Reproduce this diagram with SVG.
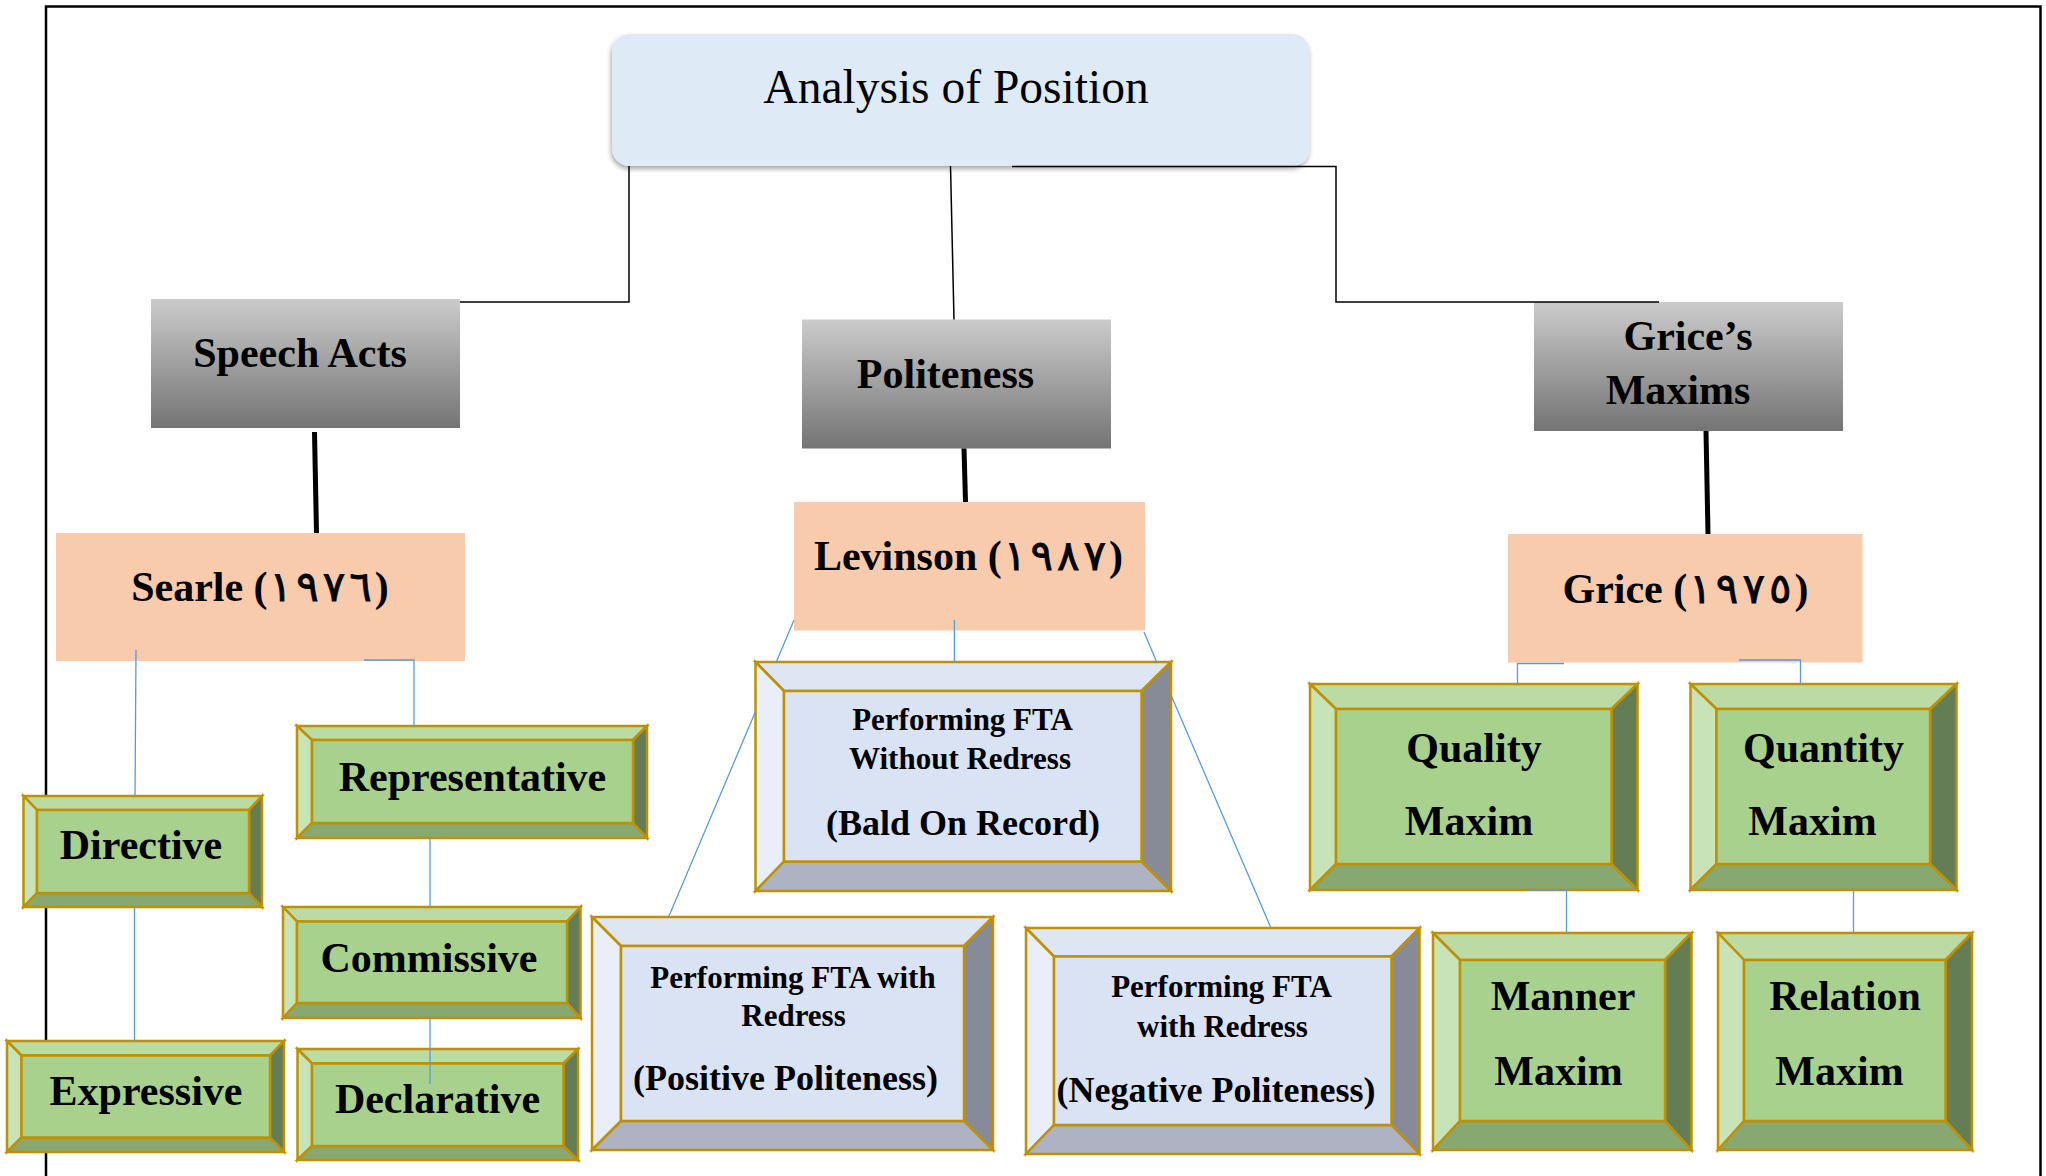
<svg xmlns="http://www.w3.org/2000/svg" width="2046" height="1176" viewBox="0 0 2046 1176">
<defs>
<linearGradient id="gray" x1="0" y1="0" x2="0" y2="1">
<stop offset="0" stop-color="#CBCBCB"/>
<stop offset="1" stop-color="#747474"/>
</linearGradient>
<filter id="shadow" x="-5%" y="-10%" width="110%" height="130%">
<feDropShadow dx="-1" dy="3" stdDeviation="2.5" flood-color="#000" flood-opacity="0.35"/>
</filter>
</defs>
<style>
.frame{fill:none;stroke:#000;stroke-width:2.5}
.root{fill:#DEEAF6}
.rootT{font-family:"Liberation Serif","Times New Roman",serif;font-size:47.5px;fill:#000;text-anchor:middle}
.grayBox{fill:url(#gray)}
.peach{fill:#F8CBAD}
.lbl{font-family:"Liberation Serif","Times New Roman","DejaVu Serif",serif;font-weight:bold;font-size:42px;fill:#000;text-anchor:middle}
.dg{font-family:"DejaVu Sans",sans-serif;font-weight:normal;font-size:42px;stroke:#000;stroke-width:0.8px}
.sm{font-size:31px}
.md{font-size:36px}
.g polygon,.g rect,.b polygon,.b rect{stroke:#BF9000;stroke-width:2.5;stroke-linejoin:miter}
.g .t{fill:#BBDAA4}.g .l{fill:#C9E3B9}.g .r{fill:#647D55}.g .bt{fill:#87A870}.g .f{fill:#A9D18E}
.b .t{fill:#DFE6F3}.b .l{fill:#E9EEF8}.b .r{fill:#868B97}.b .bt{fill:#ADB3C2}.b .f{fill:#DAE3F3}
.k{fill:none;stroke:#000;stroke-width:1.5}
.kk{fill:none;stroke:#000;stroke-width:5}
.bl{fill:none;stroke:#5B9BD5;stroke-width:1.3}
</style>
<path class="frame" d="M46,1178 V6.5 H2040.5 V1178"/>

<g id="root">
<rect class="root" x="612" y="34" width="698" height="132" rx="18" filter="url(#shadow)"/>
<text class="rootT" x="956" y="103">Analysis of Position</text>
</g>

<g id="speech-acts">
<rect class="grayBox" x="151" y="299" width="309" height="129"/>
<text class="lbl" x="300" y="367">Speech Acts</text>
</g>
<g id="politeness">
<rect class="grayBox" x="802" y="319.5" width="309" height="129"/>
<text class="lbl" x="945.5" y="388">Politeness</text>
</g>
<g id="grices-maxims">
<rect class="grayBox" x="1534" y="302" width="309" height="129"/>
<text class="lbl" x="1688" y="350">Grice’s</text>
<text class="lbl" x="1678" y="404">Maxims</text>
</g>

<g id="searle">
<rect class="peach" x="56" y="533" width="409" height="128"/>
<text class="lbl" x="260" y="601">Searle (<tspan class="dg" dx="2 4 4 4">١٩٧٦</tspan><tspan dx="3">)</tspan></text>
</g>
<g id="levinson">
<rect class="peach" x="794" y="502" width="351" height="128.5"/>
<text class="lbl" x="968.5" y="570">Levinson (<tspan class="dg" dx="2 4 4 4">١٩٨٧</tspan><tspan dx="3">)</tspan></text>
</g>
<g id="grice">
<rect class="peach" x="1508" y="534" width="354.5" height="128.5"/>
<text class="lbl" x="1685.5" y="603">Grice (<tspan class="dg" dx="2 4 4 4">١٩٧٥</tspan><tspan dx="3">)</tspan></text>
</g>

<g id="directive" class="g">
<polygon class="t" points="23.5,796 262,796 249,810 37,810"/>
<polygon class="l" points="23.5,796 37,810 37,893 23.5,907"/>
<polygon class="r" points="262,796 262,907 249,893 249,810"/>
<polygon class="bt" points="23.5,907 37,893 249,893 262,907"/>
<rect class="f" x="37" y="810" width="212" height="83"/>
<text class="lbl" x="141" y="859">Directive</text>
</g>
<g id="representative" class="g">
<polygon class="t" points="297,726 647,726 633,740 312,740"/>
<polygon class="l" points="297,726 312,740 312,823 297,838"/>
<polygon class="r" points="647,726 647,838 633,823 633,740"/>
<polygon class="bt" points="297,838 312,823 633,823 647,838"/>
<rect class="f" x="312" y="740" width="321" height="83"/>
<text class="lbl" x="472.5" y="791">Representative</text>
</g>
<g id="commissive" class="g">
<polygon class="t" points="283,907 580.5,907 567,921.5 297,921.5"/>
<polygon class="l" points="283,907 297,921.5 297,1003 283,1018"/>
<polygon class="r" points="580.5,907 580.5,1018 567,1003 567,921.5"/>
<polygon class="bt" points="283,1018 297,1003 567,1003 580.5,1018"/>
<rect class="f" x="297" y="921.5" width="270" height="81.5"/>
<text class="lbl" x="429" y="972">Commissive</text>
</g>
<g id="expressive" class="g">
<polygon class="t" points="7,1041 284,1041 270,1055.5 21.5,1055.5"/>
<polygon class="l" points="7,1041 21.5,1055.5 21.5,1137.5 7,1152"/>
<polygon class="r" points="284,1041 284,1152 270,1137.5 270,1055.5"/>
<polygon class="bt" points="7,1152 21.5,1137.5 270,1137.5 284,1152"/>
<rect class="f" x="21.5" y="1055.5" width="248.5" height="82"/>
<text class="lbl" x="146" y="1105">Expressive</text>
</g>
<g id="declarative" class="g">
<polygon class="t" points="297.5,1049 578,1049 563.5,1063.5 312,1063.5"/>
<polygon class="l" points="297.5,1049 312,1063.5 312,1146 297.5,1160"/>
<polygon class="r" points="578,1049 578,1160 563.5,1146 563.5,1063.5"/>
<polygon class="bt" points="297.5,1160 312,1146 563.5,1146 578,1160"/>
<rect class="f" x="312" y="1063.5" width="251.5" height="82.5"/>
<text class="lbl" x="437.5" y="1112.5">Declarative</text>
</g>

<g id="bald-on-record" class="b">
<polygon class="t" points="755.5,662 1171,662 1141.5,691 784,691"/>
<polygon class="l" points="755.5,662 784,691 784,861.5 755.5,891"/>
<polygon class="r" points="1171,662 1171,891 1141.5,861.5 1141.5,691"/>
<polygon class="bt" points="755.5,891 784,861.5 1141.5,861.5 1171,891"/>
<rect class="f" x="784" y="691" width="357.5" height="170.5"/>
<text class="lbl sm" x="962.5" y="730">Performing FTA</text>
<text class="lbl sm" x="960" y="769">Without Redress</text>
<text class="lbl md" x="963" y="835">(Bald On Record)</text>
</g>
<g id="positive-politeness" class="b">
<polygon class="t" points="592,917 993,917 964,946 621,946"/>
<polygon class="l" points="592,917 621,946 621,1121 592,1150"/>
<polygon class="r" points="993,917 993,1150 964,1121 964,946"/>
<polygon class="bt" points="592,1150 621,1121 964,1121 993,1150"/>
<rect class="f" x="621" y="946" width="343" height="175"/>
<text class="lbl sm" x="793" y="987.5">Performing FTA with</text>
<text class="lbl sm" x="793.5" y="1026">Redress</text>
<text class="lbl md" x="785.5" y="1090">(Positive Politeness)</text>
</g>
<g id="negative-politeness" class="b">
<polygon class="t" points="1026,928 1419.5,928 1391.5,956.5 1054,956.5"/>
<polygon class="l" points="1026,928 1054,956.5 1054,1125 1026,1154"/>
<polygon class="r" points="1419.5,928 1419.5,1154 1391.5,1125 1391.5,956.5"/>
<polygon class="bt" points="1026,1154 1054,1125 1391.5,1125 1419.5,1154"/>
<rect class="f" x="1054" y="956.5" width="337.5" height="168.5"/>
<text class="lbl sm" x="1221.5" y="997">Performing FTA</text>
<text class="lbl sm" x="1222.5" y="1037">with Redress</text>
<text class="lbl md" x="1216" y="1101.5">(Negative Politeness)</text>
</g>

<g id="quality-maxim" class="g">
<polygon class="t" points="1310,684 1637.5,684 1611.5,709 1336,709"/>
<polygon class="l" points="1310,684 1336,709 1336,864 1310,890"/>
<polygon class="r" points="1637.5,684 1637.5,890 1611.5,864 1611.5,709"/>
<polygon class="bt" points="1310,890 1336,864 1611.5,864 1637.5,890"/>
<rect class="f" x="1336" y="709" width="275.5" height="155"/>
<text class="lbl" x="1474" y="761.5">Quality</text>
<text class="lbl" x="1469" y="834.5">Maxim</text>
</g>
<g id="quantity-maxim" class="g">
<polygon class="t" points="1690.5,684 1956.5,684 1930,709 1716.5,709"/>
<polygon class="l" points="1690.5,684 1716.5,709 1716.5,864 1690.5,890"/>
<polygon class="r" points="1956.5,684 1956.5,890 1930,864 1930,709"/>
<polygon class="bt" points="1690.5,890 1716.5,864 1930,864 1956.5,890"/>
<rect class="f" x="1716.5" y="709" width="213.5" height="155"/>
<text class="lbl" x="1823.5" y="761.5">Quantity</text>
<text class="lbl" x="1812.5" y="834.5">Maxim</text>
</g>
<g id="manner-maxim" class="g">
<polygon class="t" points="1433,933 1691.5,933 1665,960 1460,960"/>
<polygon class="l" points="1433,933 1460,960 1460,1121 1433,1150"/>
<polygon class="r" points="1691.5,933 1691.5,1150 1665,1121 1665,960"/>
<polygon class="bt" points="1433,1150 1460,1121 1665,1121 1691.5,1150"/>
<rect class="f" x="1460" y="960" width="205" height="161"/>
<text class="lbl" x="1563" y="1009.5">Manner</text>
<text class="lbl" x="1558.5" y="1085">Maxim</text>
</g>
<g id="relation-maxim" class="g">
<polygon class="t" points="1718,933 1972,933 1945.5,960 1744,960"/>
<polygon class="l" points="1718,933 1744,960 1744,1121 1718,1150"/>
<polygon class="r" points="1972,933 1972,1150 1945.5,1121 1945.5,960"/>
<polygon class="bt" points="1718,1150 1744,1121 1945.5,1121 1972,1150"/>
<rect class="f" x="1744" y="960" width="201.5" height="161"/>
<text class="lbl" x="1845" y="1009.5">Relation</text>
<text class="lbl" x="1839.5" y="1085">Maxim</text>
</g>

<g id="connectors">
<path class="k" d="M629,166 V302 H460"/>
<path class="k" d="M950.5,166 L954,319.5"/>
<path class="k" d="M1012,166.5 H1336 V302 H1659"/>
<path class="kk" d="M314.5,432 L316.5,533"/>
<path class="kk" d="M964,448.5 L965.5,502"/>
<path class="kk" d="M1706,431 L1708,534"/>
<path class="bl" d="M136,650 L135,796"/>
<path class="bl" d="M364,660 H414 V726"/>
<path class="bl" d="M430,838 V907"/>
<path class="bl" d="M134.5,907 V1041"/>
<path class="bl" d="M430,1018 V1084"/>
<path class="bl" d="M794,620 L776.3,662 M755.3,712 L668.6,917"/>
<path class="bl" d="M954.4,620 V662"/>
<path class="bl" d="M1144,632 L1156.7,662 M1171,695 L1271,928"/>
<path class="bl" d="M1564,663.5 H1517.5 V684"/>
<path class="bl" d="M1739,660 H1800.5 V684"/>
<path class="bl" d="M1528.5,890 H1566.5 V933"/>
<path class="bl" d="M1853.5,890 V933"/>
</g>
</svg>
